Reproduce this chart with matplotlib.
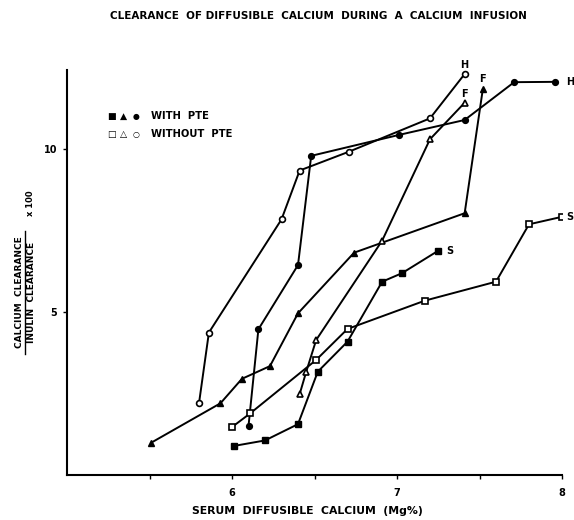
import matplotlib
matplotlib.use("Agg")
import matplotlib.pyplot as plt

# ---- data ----
# H : circles, F : triangles, S : squares
h_pte_x = [6.10, 6.16, 6.40, 6.48, 7.01, 7.41, 7.71, 7.96]
h_pte_y = [1.50, 4.47, 6.44, 9.79, 10.43, 10.89, 12.05, 12.06]
h_nopte_x = [5.80, 5.86, 6.30, 6.41, 6.71, 7.20, 7.41]
h_nopte_y = [2.20, 4.37, 7.84, 9.34, 9.92, 10.94, 12.30]

f_pte_x = [5.51, 5.93, 6.06, 6.23, 6.40, 6.74, 7.41, 7.52]
f_pte_y = [0.99, 2.20, 2.95, 3.34, 4.96, 6.82, 8.03, 11.83]
f_nopte_x = [6.41, 6.45, 6.51, 6.91, 7.20, 7.41]
f_nopte_y = [2.48, 3.17, 4.14, 7.19, 10.30, 11.42]

s_pte_x = [6.01, 6.20, 6.40, 6.52, 6.70, 6.91, 7.03, 7.25]
s_pte_y = [0.89, 1.06, 1.56, 3.17, 4.09, 5.93, 6.19, 6.88]
s_nopte_x = [6.00, 6.11, 6.51, 6.70, 7.17, 7.60, 7.80, 8.00]
s_nopte_y = [1.47, 1.89, 3.53, 4.48, 5.35, 5.93, 7.69, 7.92]

xticks = [6, 7, 8]
xminor = [5.5, 6.5, 7.5]
yticks = [5, 10]

plt.rcParams['font.family'] = ['DejaVu Sans']
plt.rcParams['font.weight'] = 'bold'
FS = 6.5

fig = plt.figure(figsize=(5.74, 5.20), dpi=100)
ax = fig.add_axes([67/574, 45/520, 495/574, 405/520])

lw = 1.4
ms = 4.2
common = dict(color='black', linewidth=lw, markersize=ms)
ax.plot(h_pte_x, h_pte_y, marker='o', mfc='black', mec='black', **common)
ax.plot(h_nopte_x, h_nopte_y, marker='o', mfc='white', mec='black', mew=1.2, **common)
ax.plot(f_pte_x, f_pte_y, marker='^', mfc='black', mec='black', **common)
ax.plot(f_nopte_x, f_nopte_y, marker='^', mfc='white', mec='black', mew=1.2, **common)
ax.plot(s_pte_x, s_pte_y, marker='s', mfc='black', mec='black', **common)
ax.plot(s_nopte_x, s_nopte_y, marker='s', mfc='white', mec='black', mew=1.2, **common)

# curve letters next to end points
lab = dict(fontsize=FS + 0.5, fontweight='bold', textcoords='offset points')
ax.annotate('H', (h_nopte_x[-1], h_nopte_y[-1]), xytext=(0, 3), ha='center', va='bottom', **lab)
ax.annotate('H', (h_pte_x[-1], h_pte_y[-1]), xytext=(8, 0), ha='left', va='center', **lab)
ax.annotate('F', (f_pte_x[-1], f_pte_y[-1]), xytext=(0, 4), ha='center', va='bottom', **lab)
ax.annotate('F', (f_nopte_x[-1], f_nopte_y[-1]), xytext=(0, 3), ha='center', va='bottom', **lab)
ax.annotate('S', (s_nopte_x[-1], s_nopte_y[-1]), xytext=(3, 0), ha='left', va='center', **lab)
ax.annotate('S', (s_pte_x[-1], s_pte_y[-1]), xytext=(6, 0), ha='left', va='center', **lab)

ax.set_xlim(5, 8)
ax.set_ylim(0, 405/32.6)
ax.spines['top'].set_visible(False)
ax.spines['right'].set_visible(False)
ax.spines['left'].set_linewidth(1.5)
ax.spines['bottom'].set_linewidth(1.5)
ax.set_xticks(xticks)
ax.set_xticks(xminor, minor=True)
ax.set_yticks(yticks)
ax.tick_params(axis='both', which='both', direction='out', length=3, width=1,
               labelsize=FS + 0.5, pad=4)
ax.tick_params(axis='x', which='major', pad=6)
for t in ax.get_xticklabels() + ax.get_yticklabels():
    t.set_fontweight('bold')

# legend text block
LF = 7.2
fig.text(112/574, 1 - 116/520, '\u25a0', fontsize=LF - 0.5, ha='center', va='center')
fig.text(124/574, 1 - 116/520, '\u25b2', fontsize=LF - 0.5, ha='center', va='center')
fig.text(136/574, 1 - 116/520, '\u25cf', fontsize=LF - 1.5, ha='center', va='center')
fig.text(151/574, 1 - 116/520, 'WITH  PTE', fontsize=LF, ha='left', va='center', fontweight='bold')
fig.text(112/574, 1 - 134/520, '\u25a1', fontsize=LF - 0.5, ha='center', va='center')
fig.text(124/574, 1 - 134/520, '\u25b3', fontsize=LF - 0.5, ha='center', va='center')
fig.text(136/574, 1 - 134/520, '\u25cb', fontsize=LF - 1.5, ha='center', va='center')
fig.text(151/574, 1 - 134/520, 'WITHOUT  PTE', fontsize=LF, ha='left', va='center', fontweight='bold')

fig.text(318/574, 1 - 16/520, 'CLEARANCE  OF DIFFUSIBLE  CALCIUM  DURING  A  CALCIUM  INFUSION',
         fontsize=7.5, ha='center', va='center', fontweight='bold')
fig.text(307/574, 1 - 511/520, 'SERUM  DIFFUSIBLE  CALCIUM  (Mg%)',
         fontsize=7.8, ha='center', va='center', fontweight='bold')

# y label as a fraction
fig.text(22.5/574, 1 - 292/520, 'CALCIUM  CLEARANCE', fontsize=FS, rotation=90,
         rotation_mode='anchor', ha='center', va='baseline', fontweight='bold')
fig.text(34/574, 1 - 292/520, 'INULIN  CLEARANCE', fontsize=FS, rotation=90,
         rotation_mode='anchor', ha='center', va='baseline', fontweight='bold')
fig.add_artist(plt.Line2D([24.5/574, 24.5/574], [1 - 354/520, 1 - 231/520],
                          color='black', linewidth=1))
fig.text(33/574, 1 - 203/520, 'x 100', fontsize=FS - 0.5, rotation=90,
         rotation_mode='anchor', ha='center', va='baseline', fontweight='bold')

fig.savefig('out.png', dpi=100)
